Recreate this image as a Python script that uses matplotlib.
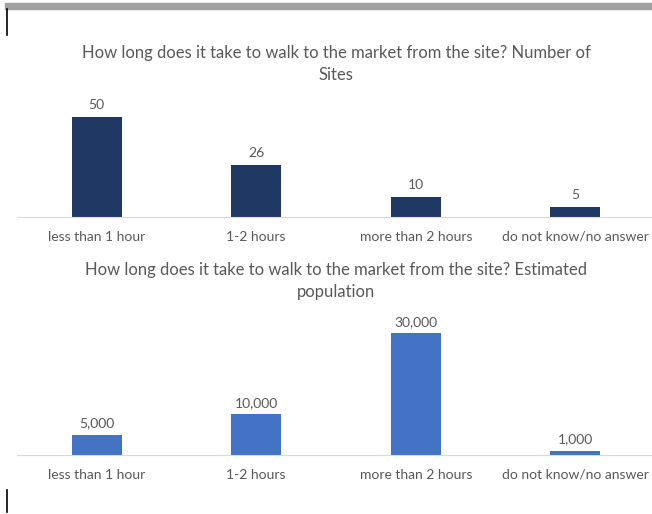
import matplotlib
matplotlib.use("Agg")
import matplotlib.pyplot as plt
from matplotlib.patches import Rectangle
from matplotlib.lines import Line2D

# data
categories = ["less than 1 hour", "1-2 hours", "more than 2 hours", "do not know/no answer"]
sites = [50, 26, 10, 5]
population = [5000, 10000, 30000, 1000]
title_sites = "How long does it take to walk to the market from the site? Number of\nSites"
title_pop = "How long does it take to walk to the market from the site? Estimated\npopulation"

plt.rcParams['font.family'] = ['Lato', 'DejaVu Sans']
txt = '#595959'
W, H = 652, 514

fig = plt.figure(figsize=(W / 100, H / 100), dpi=100)

def px_axes(left, right, bottom, top):
    return fig.add_axes([left / W, 1 - bottom / H, (right - left) / W, (bottom - top) / H])

def bar_panel(ax, vals, color, ymax, fmt):
    x = range(len(vals))
    bars = ax.bar(x, vals, width=0.314, color=color)
    ax.set_xlim(-0.5, 3.5)
    ax.set_ylim(0, ymax)
    ax.set_xticks(list(x))
    ax.set_xticklabels(categories, fontsize=10, color=txt)
    ax.tick_params(axis='x', length=0, pad=10)
    ax.set_yticks([])
    for s in ['top', 'left', 'right']:
        ax.spines[s].set_visible(False)
    ax.spines['bottom'].set_color('#d9d9d9')
    ax.spines['bottom'].set_linewidth(0.8)
    ax.patch.set_alpha(0)
    for b, v in zip(bars, vals):
        ax.annotate(fmt(v), (b.get_x() + b.get_width() / 2, v), xytext=(0, 4),
                    textcoords='offset points', ha='center', va='bottom',
                    fontsize=10, color=txt)

ax1 = px_axes(17, 655, 217, 97)
bar_panel(ax1, sites, '#1f3864', 60, lambda v: f"{v}")
ax2 = px_axes(17, 655, 455, 313)
bar_panel(ax2, population, '#4472c4', 35000, lambda v: f"{v:,}")

fig.text(336 / W, 1 - 64 / H, title_sites, ha='center', va='center', fontsize=12,
         color=txt, linespacing=1.4)
fig.text(336 / W, 1 - 281 / H, title_pop, ha='center', va='center', fontsize=12,
         color=txt, linespacing=1.4)

# page decorations
fig.patches.append(Rectangle((5 / W, 1 - 9 / H), (W - 5) / W, 6 / H,
                             transform=fig.transFigure, color='#a0a0a0', zorder=0))
fig.lines.append(Line2D([7 / W, 7 / W], [1 - 9 / H, 1 - 35 / H], transform=fig.transFigure,
                        color='black', lw=1.2))
fig.lines.append(Line2D([7 / W, 7 / W], [1 - 490 / H, 1 - 512 / H], transform=fig.transFigure,
                        color='black', lw=1.2))

fig.savefig("out.png", dpi=100)
